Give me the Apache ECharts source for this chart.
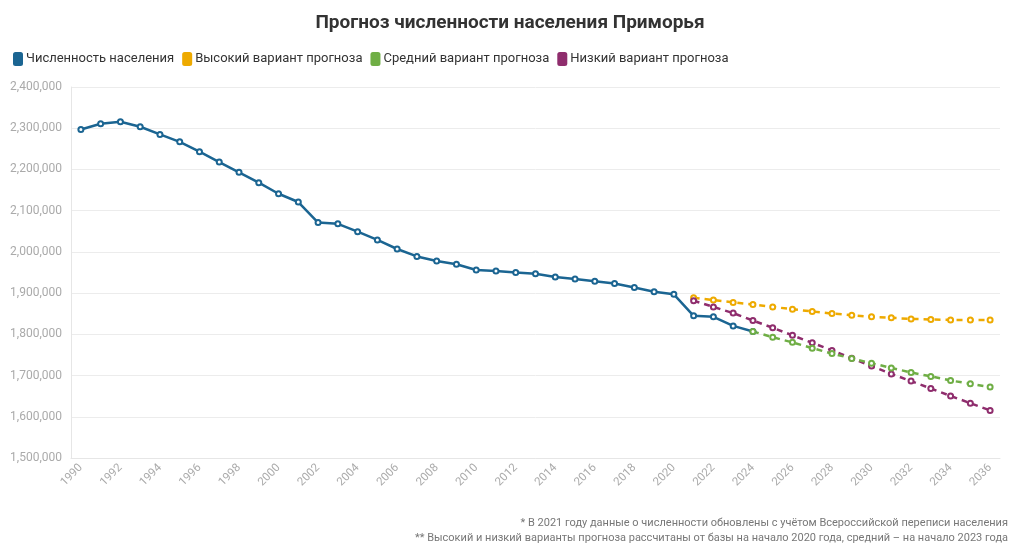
<!DOCTYPE html>
<html><head><meta charset="utf-8">
<script src="https://cdn.jsdelivr.net/npm/echarts@6/dist/echarts.min.js"></script>
<style>html,body{margin:0;padding:0;background:#fff}#c{width:1020px;height:555px}</style>
</head><body><div id="c"></div>
<script>
const years = [];
for (let y = 1990; y <= 2036; y++) years.push(String(y));
const populationValues = [2297000, 2311000, 2315500, 2303500, 2285000, 2267000, 2243000, 2218000, 2193000, 2168000, 2141000, 2121000, 2071000, 2068000, 2049000, 2029000, 2007000, 1989000, 1978000, 1970000, 1956000, 1953500, 1950000, 1947000, 1939000, 1934500, 1929000, 1923500, 1913500, 1903500, 1897000, 1845000, 1842500, 1820500, 1807000];
const highValues = [1888500, 1883000, 1877500, 1872500, 1866500, 1861000, 1855500, 1850500, 1846500, 1842500, 1840000, 1837500, 1836000, 1835000, 1834500, 1834500]; // 2021-2036
const lowValues = [1881500, 1866500, 1851500, 1833500, 1816000, 1797500, 1779500, 1761000, 1742000, 1723000, 1704000, 1686500, 1668500, 1650500, 1633000, 1615500]; // 2021-2036
const midValues = [1807000, 1793000, 1780500, 1766500, 1753500, 1741500, 1730000, 1718500, 1707500, 1698000, 1688000, 1680000, 1672000]; // 2024-2036
const seriesNames = ['Численность населения', 'Высокий вариант прогноза', 'Средний вариант прогноза', 'Низкий вариант прогноза'];
const titleText = 'Прогноз численности населения Приморья';
const notes = ['* В 2021 году данные о численности обновлены с учётом Всероссийской переписи населения',
  '** Высокий и низкий варианты прогноза рассчитаны от базы на начало 2020 года, средний – на начало 2023 года'];

function align(vals, startYear) {
  const out = years.map(() => null);
  const off = startYear - 1990;
  vals.forEach((v, i) => { out[off + i] = v; });
  return out;
}
const colors = ['#1b6592', '#eeaa00', '#6fae45', '#8f2d6d'];
const FONT = 'Roboto';
const chart = echarts.init(document.getElementById('c'));
function mk(name, data, color, dashed) {
  return {
    name, type: 'line', data, connectNulls: false,
    symbol: 'emptyCircle', symbolSize: 5, showSymbol: true,
    lineStyle: { color, width: 2.5, type: dashed ? [6, 5] : 'solid' },
    itemStyle: { color, borderWidth: 2 },
    emphasis: { disabled: true }
  };
}
chart.setOption({
  animation: false,
  textStyle: { fontFamily: FONT },
  title: { text: titleText, left: 'center', top: 9, textStyle: { fontSize: 19, fontWeight: 'bold', color: '#333', fontFamily: FONT } },
  legend: {
    left: 8, top: 47, itemWidth: 10, itemHeight: 14, itemGap: 8, icon: 'roundRect',
    textStyle: { fontSize: 13, color: '#333', fontFamily: FONT, padding: [0, 0, 0, -2] },
    data: seriesNames.map((n, i) => ({ name: n, itemStyle: { color: colors[i], borderWidth: 0 } }))
  },
  graphic: notes.map((t, i) => ({
    type: 'text', right: 12, top: 518 + i * 15,
    style: { text: t, fill: '#777', font: '11px ' + FONT, textAlign: 'right' }
  })),
  grid: { left: 71, right: 20, top: 87, bottom: 97 },
  xAxis: {
    type: 'category', data: years, boundaryGap: true,
    axisLine: { lineStyle: { color: '#e6e6e6' } },
    axisTick: { alignWithLabel: true, interval: 0, lineStyle: { color: '#e6e6e6' }, length: 5 },
    axisLabel: { interval: 1, rotate: 45, color: '#aaa', fontSize: 11.5, fontFamily: FONT, margin: 8 }
  },
  yAxis: {
    type: 'value', min: 1500000, max: 2400000, interval: 100000,
    axisLine: { show: true, lineStyle: { color: '#e6e6e6' } },
    axisTick: { show: false },
    splitLine: { lineStyle: { color: '#ececec' } },
    axisLabel: { color: '#aaa', fontSize: 12, fontFamily: FONT, margin: 9,
      formatter: v => v.toString().replace(/\B(?=(\d{3})+(?!\d))/g, ',') }
  },
  series: [
    mk(seriesNames[0], align(populationValues, 1990), colors[0], false),
    mk(seriesNames[1], align(highValues, 2021), colors[1], true),
    mk(seriesNames[3], align(lowValues, 2021), colors[3], true),
    mk(seriesNames[2], align(midValues, 2024), colors[2], true)
  ]
});
</script></body></html>
